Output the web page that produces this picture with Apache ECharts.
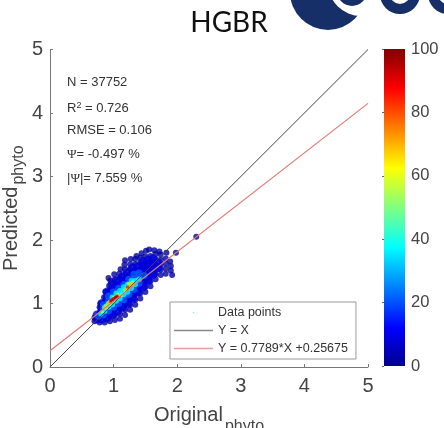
<!DOCTYPE html>
<html><head><meta charset="utf-8">
<style>html,body{margin:0;padding:0;background:#fff}#c{width:444px;height:428px}</style>
<script src="https://cdn.jsdelivr.net/npm/echarts@6/dist/echarts.min.js"></script>
</head><body><div id="c"></div>
<script>
const titleText = 'HGBR';
const axisTicks = [0, 5, 1];
const colorbarTicks = [0, 100, 20];
const identityX = [0, 5];
const identityY = [0, 5];
const fitX = [0, 5];
const fitY = [0.25675, 4.15125];
const statLines = ['N = 37752', 'R{sup|2} = 0.726', 'RMSE = 0.106', '{psi|Ψ}= -0.497 %', '|{psi|Ψ}|= 7.559 %'];
const legendNames = ['Data points', 'Y = X', 'Y = 0.7789*X +0.25675'];

const navyPoints = [
 [0.70,0.72],[0.70,0.78],
 [0.78,0.70],[0.78,0.78],[0.78,0.86],[0.78,0.94],[0.79,1.00],
 [0.86,0.70],[0.86,0.78],[0.86,0.86],[0.86,0.94],[0.86,1.02],[0.85,1.10],[0.87,1.19],
 [0.94,0.72],[0.94,0.80],[0.94,0.88],[0.94,0.96],[0.94,1.04],[0.94,1.12],[0.94,1.20],[0.93,1.28],[0.95,1.36],
 [1.02,0.74],[1.02,0.82],[1.02,0.90],[1.02,0.98],[1.02,1.06],[1.02,1.14],[1.02,1.22],[1.02,1.30],[1.02,1.38],[1.01,1.46],
 [1.10,0.76],[1.10,0.84],[1.10,0.92],[1.10,1.00],[1.10,1.08],[1.10,1.16],[1.10,1.24],[1.10,1.32],[1.10,1.40],[1.09,1.47],[1.11,1.54],
 [1.18,0.82],[1.18,0.90],[1.18,0.98],[1.18,1.06],[1.18,1.14],[1.18,1.22],[1.18,1.30],[1.18,1.38],[1.18,1.46],[1.18,1.54],[1.17,1.61],
 [1.26,0.90],[1.26,0.98],[1.26,1.06],[1.26,1.14],[1.26,1.22],[1.26,1.30],[1.26,1.38],[1.26,1.46],[1.26,1.54],[1.26,1.62],[1.27,1.70],
 [1.34,0.98],[1.34,1.06],[1.34,1.14],[1.34,1.22],[1.34,1.30],[1.34,1.38],[1.34,1.46],[1.34,1.54],[1.34,1.62],[1.34,1.70],[1.36,1.75],
 [1.42,1.08],[1.42,1.16],[1.42,1.24],[1.42,1.32],[1.42,1.40],[1.42,1.48],[1.42,1.56],[1.42,1.64],[1.42,1.72],[1.44,1.79],
 [1.50,1.18],[1.50,1.26],[1.50,1.34],[1.50,1.42],[1.50,1.50],[1.50,1.58],[1.50,1.66],[1.50,1.74],[1.51,1.83],
 [1.58,1.27],[1.58,1.35],[1.58,1.43],[1.58,1.51],[1.58,1.59],[1.58,1.67],[1.58,1.75],[1.56,1.85],
 [1.66,1.38],[1.66,1.46],[1.66,1.54],[1.66,1.62],[1.66,1.70],[1.66,1.78],[1.64,1.84],
 [1.74,1.45],[1.74,1.53],[1.74,1.61],[1.74,1.69],[1.74,1.77],[1.72,1.82],
 [1.82,1.47],[1.82,1.55],[1.82,1.63],[1.82,1.71],[1.83,1.80],
 [1.90,1.52],[1.90,1.59],[1.89,1.66],
 [1.98,1.80],[2.30,2.05],[1.18,1.68],[0.92,1.40],[1.92,1.45]
];
const royalPoints = [
 [0.74,0.76],[0.74,0.82],
 [0.82,0.76],[0.82,0.84],[0.82,0.92],[0.82,1.00],
 [0.90,0.78],[0.90,0.86],[0.90,0.94],[0.90,1.02],[0.90,1.10],[0.90,1.18],
 [0.98,0.82],[0.98,0.90],[0.98,0.98],[0.98,1.06],[0.98,1.14],[0.98,1.22],[0.98,1.30],
 [1.06,0.88],[1.06,0.96],[1.06,1.04],[1.06,1.12],[1.06,1.20],[1.06,1.28],[1.06,1.36],
 [1.14,0.94],[1.14,1.02],[1.14,1.10],[1.14,1.18],[1.14,1.26],[1.14,1.34],[1.14,1.42],
 [1.22,1.00],[1.22,1.08],[1.22,1.16],[1.22,1.24],[1.22,1.32],[1.22,1.40],[1.22,1.48],
 [1.30,1.08],[1.30,1.16],[1.30,1.24],[1.30,1.32],[1.30,1.40],[1.30,1.48],[1.30,1.56],
 [1.38,1.18],[1.38,1.26],[1.38,1.34],[1.38,1.42],[1.38,1.50],[1.38,1.58],
 [1.46,1.26],[1.46,1.34],[1.46,1.42],[1.46,1.50],[1.46,1.58],[1.46,1.66],
 [1.54,1.36],[1.54,1.44],[1.54,1.52],[1.54,1.60],[1.54,1.68],
 [1.62,1.46],[1.62,1.54],[1.62,1.62],[1.62,1.70],
 [1.70,1.56],[1.70,1.64]
];
const azurePoints = [
 [0.76,0.80],
 [0.84,0.82],[0.84,0.90],[0.84,0.98],
 [0.92,0.88],[0.92,0.96],[0.92,1.04],[0.92,1.12],
 [1.00,0.94],[1.00,1.02],[1.00,1.10],[1.00,1.18],
 [1.08,1.00],[1.08,1.08],[1.08,1.16],[1.08,1.24],
 [1.16,1.06],[1.16,1.14],[1.16,1.22],[1.16,1.30],
 [1.24,1.14],[1.24,1.22],[1.24,1.30],[1.24,1.38],
 [1.32,1.22],[1.32,1.30],[1.32,1.38],[1.32,1.46],
 [1.40,1.32],[1.40,1.40],[1.40,1.48],
 [1.48,1.44]
];
const cyanPoints = [
 [0.80,0.84],[0.86,0.88],[0.86,0.94],[0.92,0.94],[0.92,1.00],
 [0.98,0.98],[0.98,1.04],[0.98,1.10],[1.04,1.04],[1.04,1.10],[1.04,1.16],
 [1.10,1.08],[1.10,1.14],[1.10,1.20],[1.16,1.14],[1.16,1.20],[1.16,1.26],
 [1.22,1.18],[1.22,1.24],[1.22,1.30],[1.28,1.24],[1.28,1.30],[1.28,1.36],
 [1.34,1.30],[1.34,1.36],[1.40,1.38]
];
const greenPoints = [
 [0.82,0.87],[0.88,0.93],[0.88,0.97],[0.94,0.98],[0.94,1.03],[1.00,1.03],[1.00,1.09],
 [1.06,1.08],[1.06,1.14],[1.12,1.13],[1.18,1.20],[1.24,1.25],[1.24,1.31],[1.30,1.29],[1.30,1.33]
];
const yellowPoints = [[0.86,0.93],[0.92,1.00],[0.98,1.05],[1.04,1.10],[1.20,1.23],[1.26,1.28],[1.30,1.32]];
const orangePoints = [[0.95,1.03],[1.05,1.12],[1.22,1.26]];
const redPoints = [[0.97,1.05],[1.00,1.07],[1.03,1.09],[1.06,1.10]];
const jetColors = ['#00008f','#0000ff','#00ffff','#ffff00','#ff0000','#800000'];

const bands = [
 ['navy', navyPoints, 3, 6], ['royal', royalPoints, 14, 9], ['azure', azurePoints, 27, 7],
 ['cyan', cyanPoints, 40, 5.5], ['green', greenPoints, 52, 4], ['yellow', yellowPoints, 65, 4],
 ['orange', orangePoints, 78, 3.5], ['red', redPoints, 92, 4]
];
const TXT = '#444';
const FONT = '"Liberation Sans", Arial, sans-serif';
function axisBase(margin){ return {
  type:'value', min:axisTicks[0], max:axisTicks[1], interval:axisTicks[2],
  splitLine:{show:false},
  axisLine:{show:true,onZero:false,lineStyle:{color:'#777',width:1}},
  axisTick:{show:true,inside:true,length:3,lineStyle:{color:'#777'}},
  axisLabel:{color:TXT,fontSize:20,fontFamily:FONT,margin:margin,rotate:0}
};}
function nameStyle(lift){ return {color:TXT,fontFamily:FONT,rich:{
  a:{fontSize:20,fontFamily:FONT,color:TXT,verticalAlign:'bottom',padding:[0,2,lift,0]},
  b:{fontSize:16,fontFamily:FONT,color:TXT,verticalAlign:'bottom'}
}};}
const chart = echarts.init(document.getElementById('c'),null,{renderer:'canvas'});
const scatterSeries = bands.map(b=>({
  type:'scatter',name:b[0],xAxisIndex:0,yAxisIndex:0,symbolSize:b[3],z:2,silent:true,
  data:b[1].map(p=>[p[0],p[1],b[2]])
}));
const statY = [81,106,129,153,177];
option = {
  animation:false,backgroundColor:'#fff',
  title:{text:titleText,left:224,top:4,textAlign:'center',textStyle:{fontFamily:'Lato',fontWeight:'normal',fontSize:28,color:'#111'}},
  grid:[{left:50,top:49.5,width:318,height:317.5,outerBoundsMode:'none',containLabel:false},
        {left:384,top:49,width:21,height:317,outerBoundsMode:'none',containLabel:false}],
  xAxis:[
    Object.assign(axisBase(9),{gridIndex:0,name:'{a|Original}{b|phyto}',nameLocation:'middle',nameMoveOverlap:false,nameGap:38,nameTextStyle:nameStyle(10)}),
    {gridIndex:1,type:'value',show:false,min:0,max:1}
  ],
  yAxis:[
    Object.assign(axisBase(7),{gridIndex:0,name:'{a|Predicted}{b|phyto}',nameLocation:'middle',nameMoveOverlap:false,nameRotate:90,nameGap:23,nameTextStyle:nameStyle(6)}),
    {gridIndex:1,type:'value',position:'right',min:colorbarTicks[0],max:colorbarTicks[1],interval:colorbarTicks[2],
     splitLine:{show:false},axisLine:{show:false},axisTick:{show:true,inside:true,length:2,lineStyle:{color:'#666'}},
     axisLabel:{color:TXT,fontSize:16.5,fontFamily:FONT,margin:6,rotate:0}}
  ],
  visualMap:{type:'continuous',show:false,min:0,max:100,seriesIndex:bands.map((b,i)=>i),
    inRange:{color:jetColors}},
  legend:{left:170,top:302,orient:'vertical',padding:[4,8,4,4],itemGap:5,itemWidth:39,itemHeight:1.5,
    borderColor:'#999',borderWidth:1,backgroundColor:'#fff',z:10,
    textStyle:{fontSize:12.5,color:'#333',fontFamily:FONT},
    data:[
      {name:legendNames[0],icon:'circle',itemStyle:{color:'#7fe0b8'}},
      {name:legendNames[1],icon:'rect',itemStyle:{color:'#888'}},
      {name:legendNames[2],icon:'rect',itemStyle:{color:'#e3a09a'}}
    ]},
  series:scatterSeries.concat([
    {type:'scatter',name:legendNames[0],data:[],itemStyle:{color:'#7fe0b8'},xAxisIndex:0,yAxisIndex:0},
    {type:'line',name:legendNames[1],data:identityX.map((x,i)=>[x,identityY[i]]),symbol:'none',z:5,silent:true,
     lineStyle:{color:'#444',width:1},xAxisIndex:0,yAxisIndex:0},
    {type:'line',name:legendNames[2],data:fitX.map((x,i)=>[x,fitY[i]]),symbol:'none',z:6,silent:true,
     lineStyle:{color:'#e07a74',width:1.2},xAxisIndex:0,yAxisIndex:0}
  ]),
  graphic:[
    {type:'rect',shape:{x:384,y:49,width:21,height:317},z:0,
     style:{fill:new echarts.graphic.LinearGradient(0,1,0,0,jetColors.map((c,i)=>({offset:[0,0.12,0.375,0.625,0.875,1][i],color:c})))}},
    {type:'circle',shape:{cx:328,cy:-8,r:38},style:{fill:'#172f68'},z:1},
    {type:'circle',shape:{cx:361,cy:-17,r:33},style:{fill:'#fff'},z:2},
    {type:'circle',shape:{cx:352,cy:-9,r:15},style:{fill:'#172f68'},z:3},
    {type:'ring',shape:{cx:400,cy:-6,r:20,r0:10},style:{fill:'#172f68'},z:3},
    {type:'ring',shape:{cx:448,cy:-6,r:20,r0:10},style:{fill:'#172f68'},z:3}
  ].concat(statLines.map((t,i)=>({
    type:'text',left:67,top:statY[i]-5,z:20,
    style:{text:t,fill:'#333',font:'13px '+FONT,
      rich:{sup:{fontSize:9,fill:'#333',fontFamily:FONT,verticalAlign:'top',padding:[0,0,6,0]},
            psi:{fontFamily:'"Liberation Serif",serif',fontSize:13,fill:'#333'}}}
  })))
};
chart.setOption(option);
</script></body></html>
